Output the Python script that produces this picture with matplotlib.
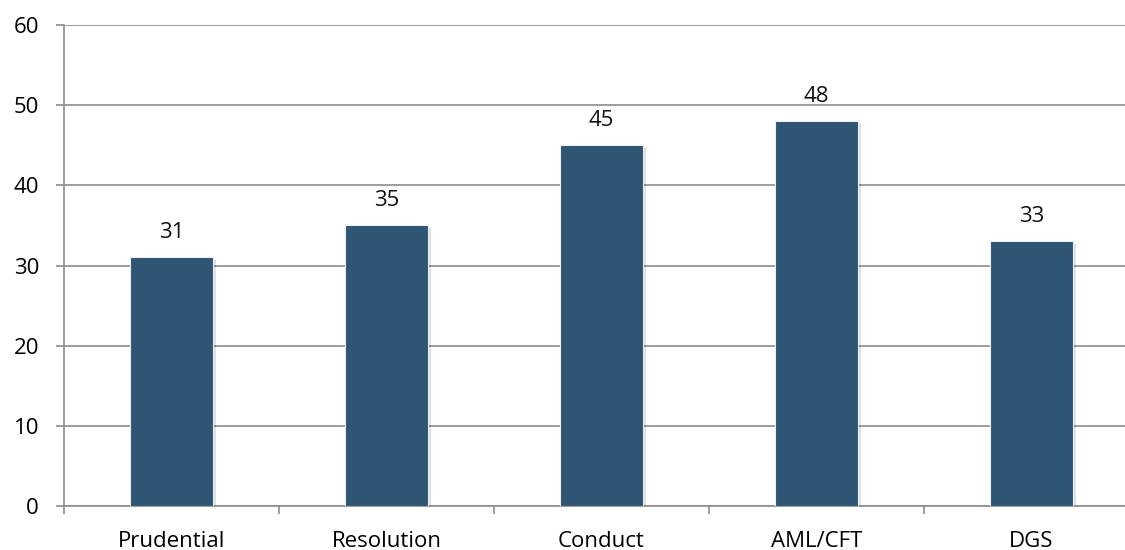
import numpy as np
import matplotlib.pyplot as plt
import matplotlib.patheffects as pe

# Data
categories = ["Prudential", "Resolution", "Conduct", "AML/CFT", "DGS"]
values = [31, 35, 45, 48, 33]

bar_color = "#2F5574"
grid_color = "#8C8C8C"

plt.rcParams["font.family"] = ["Open Sans", "DejaVu Sans"]

fig = plt.figure(figsize=(11.25, 5.5), dpi=100)
ax = fig.add_axes([64 / 1125, 44 / 550, 1075 / 1125, 481 / 550])

x = np.arange(len(categories))
bars = ax.bar(x, values, width=0.39, color=bar_color, edgecolor="#E8EEF3",
              linewidth=0.8, zorder=3)
for b in bars:
    b.set_path_effects([pe.SimplePatchShadow(offset=(1.5, -1.5), shadow_rgbFace="#000000", alpha=0.12),
                        pe.Normal()])

for xi, v in zip(x, values):
    ax.text(xi, v + 2.4, str(v), ha="center", va="baseline", fontsize=16, color="#111111")

ax.set_xlim(-0.5, len(categories) - 0.5)
ax.set_ylim(0, 60)
ax.set_yticks(np.arange(0, 61, 10))
ax.yaxis.grid(True, color=grid_color, linewidth=1.2, zorder=0)
ax.set_axisbelow(True)

# Category boundary ticks
ax.set_xticks(np.arange(-0.5, len(categories), 1.0))
ax.set_xticklabels([])
ax.set_xticks(x, minor=True)
ax.set_xticklabels(categories, minor=True, fontsize=16)
ax.tick_params(axis="x", which="minor", length=0, pad=18)
ax.tick_params(axis="x", which="major", length=6, color=grid_color, width=1.2)
ax.tick_params(axis="y", length=6, color=grid_color, width=1.2, labelsize=16, pad=12)

for s in ["top", "right"]:
    ax.spines[s].set_visible(False)
for s in ["left", "bottom"]:
    ax.spines[s].set_color(grid_color)
    ax.spines[s].set_linewidth(1.2)

fig.savefig("out.png", dpi=100)
